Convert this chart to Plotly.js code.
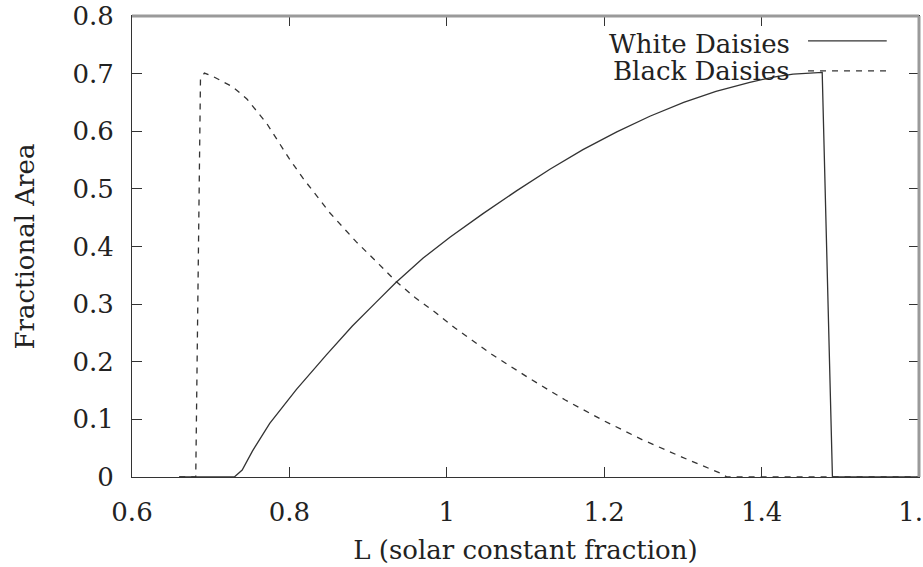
<!DOCTYPE html>
<html>
<head>
<meta charset="utf-8">
<script src="https://cdn.plot.ly/plotly-3.0.1.min.js"></script>
<style>html,body{margin:0;padding:0;background:#fff;}#chart{width:923px;height:567px;}</style>
</head>
<body>
<div id="chart"></div>
<script>
// White daisies (solid)
const whiteL = [0.66, 0.73, 0.74, 0.753, 0.775, 0.809, 0.847, 0.88, 0.91, 0.935, 0.97, 1.004, 1.046, 1.089, 1.131, 1.173, 1.216, 1.258, 1.301, 1.342, 1.385, 1.415, 1.44, 1.477, 1.49, 1.6];
const whiteA = [0, 0, 0.012, 0.045, 0.093, 0.152, 0.212, 0.262, 0.303, 0.337, 0.38, 0.416, 0.457, 0.497, 0.534, 0.568, 0.599, 0.626, 0.650, 0.669, 0.685, 0.694, 0.699, 0.702, 0, 0];
// Black daisies (dashed)
const blackL = [0.66, 0.681, 0.687, 0.692, 0.703, 0.715, 0.728, 0.746, 0.771, 0.8, 0.817, 0.851, 0.885, 0.914, 0.935, 0.96, 0.986, 1.010, 1.057, 1.104, 1.150, 1.199, 1.248, 1.298, 1.347, 1.356, 1.6];
const blackA = [0, 0, 0.69, 0.701, 0.695, 0.687, 0.677, 0.656, 0.614, 0.552, 0.519, 0.459, 0.408, 0.369, 0.340, 0.311, 0.285, 0.259, 0.213, 0.172, 0.134, 0.098, 0.065, 0.035, 0.007, 0, 0];

const seriesNames = ["White Daisies", "Black Daisies"];
const xTickVals = [0.6, 0.8, 1, 1.2, 1.4, 1.6];
const xTickText = ["0.6", "0.8", "1", "1.2", "1.4", "1.6"];
const yTickVals = [0, 0.1, 0.2, 0.3, 0.4, 0.5, 0.6, 0.7, 0.8];
const yTickText = ["0", "0.1", "0.2", "0.3", "0.4", "0.5", "0.6", "0.7", "0.8"];
const xTitle = "L (solar constant fraction)";
const yTitle = "Fractional Area";

const FONT = "DejaVu Serif, Liberation Serif, serif";
const INK = "#333";

const traces = [
  {x: whiteL, y: whiteA, name: seriesNames[0], mode: "lines",
   line: {color: INK, width: 1.3}},
  {x: blackL, y: blackA, name: seriesNames[1], mode: "lines",
   line: {color: INK, width: 1.3, dash: "6px,6px"}}
];

const axisCommon = {
  showgrid: false, zeroline: false, showline: true, mirror: "ticks",
  linecolor: INK, linewidth: 1, ticks: "inside", ticklen: 10, tickcolor: INK,
  tickfont: {family: FONT, size: 26, color: "#222"}, automargin: false,
  ticklabeloverflow: "allow"
};

const layout = {
  width: 923, height: 567,
  margin: {l: 132, r: 4, t: 16, b: 90},
  paper_bgcolor: "#fff", plot_bgcolor: "#fff",
  showlegend: false,
  xaxis: Object.assign({}, axisCommon, {
    range: [0.6, 1.6], tickvals: xTickVals, ticktext: xTickText,
    ticklabelstandoff: 12,
    title: {text: xTitle, font: {family: FONT, size: 26, color: "#222"}, standoff: 14}
  }),
  yaxis: Object.assign({}, axisCommon, {
    range: [0, 0.8], tickvals: yTickVals, ticktext: yTickText,
    ticklabelstandoff: 12,
    title: {text: yTitle, font: {family: FONT, size: 26, color: "#222"}, standoff: 30}
  }),
  shapes: [
    {type: "line", xref: "paper", yref: "paper", x0: 0, x1: 1, y0: 1, y1: 1,
     line: {color: "#9a9a9a", width: 3}},
    {type: "line", xref: "paper", yref: "paper", x0: 1, x1: 1, y0: 0, y1: 1,
     line: {color: "#9a9a9a", width: 3}},
    {type: "line", xref: "paper", yref: "paper", x0: 0.859, x1: 0.959, y0: 0.946, y1: 0.946,
     line: {color: INK, width: 1.3}},
    {type: "line", xref: "paper", yref: "paper", x0: 0.859, x1: 0.959, y0: 0.881, y1: 0.881,
     line: {color: INK, width: 1.3, dash: "6px,6px"}}
  ],
  annotations: [
    {text: seriesNames[0], xref: "paper", yref: "paper", x: 0.839, y: 0.939,
     xanchor: "right", yanchor: "middle", showarrow: false,
     font: {family: FONT, size: 26, color: "#222"}},
    {text: seriesNames[1], xref: "paper", yref: "paper", x: 0.839, y: 0.881,
     xanchor: "right", yanchor: "middle", showarrow: false,
     font: {family: FONT, size: 26, color: "#222"}}
  ]
};

Plotly.newPlot("chart", traces, layout, {displayModeBar: false, staticPlot: true});
</script>
</body>
</html>
